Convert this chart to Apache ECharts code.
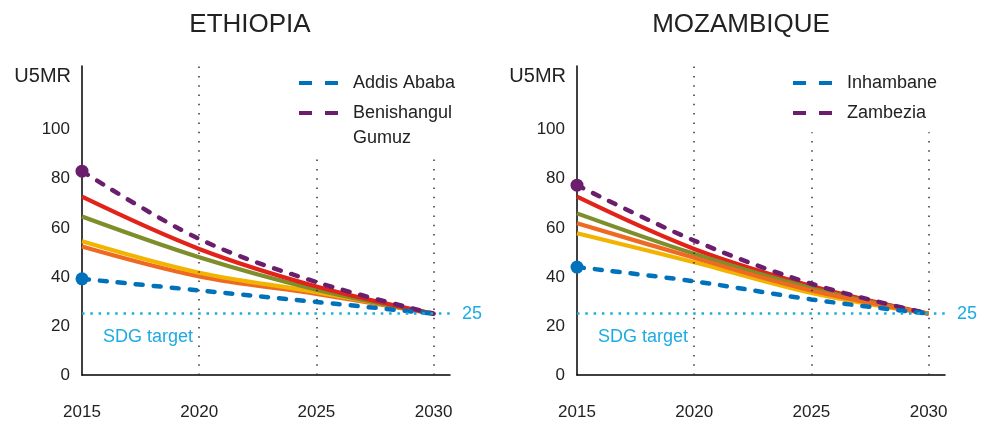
<!DOCTYPE html>
<html>
<head>
<meta charset="utf-8">
<script src="https://cdn.jsdelivr.net/npm/echarts@6/dist/echarts.min.js"></script>
<style>html,body{margin:0;padding:0;background:#fff}#c{width:983px;height:421px}</style>
</head>
<body>
<div id="c"></div>
<script>
// ---- data ----
const years = [2015, 2020, 2025, 2030];
const panelTitles = ['ETHIOPIA', 'MOZAMBIQUE'];
const yTickLabels = [0, 20, 40, 60, 80, 100];
const xTickLabels = [2015, 2020, 2025, 2030];
const sdgTarget = 25;
const sdgLabel = 'SDG target';

// Ethiopia
const ethNames = ['Addis Ababa', 'Benishangul Gumuz'];
const ethLegendLabels = ['Addis Ababa', 'Benishangul\nGumuz'];
const ethAddis = [39.2, 34.5, 29.8, 25];
const ethBenishangul = [83.1, 55.5, 37.9, 25];
const ethRed = [72.7, 51.4, 36.1, 25];
const ethOlive = [64.6, 48.0, 34.8, 25];
const ethYellow = [54.5, 41.7, 33.8, 25];
const ethOrange = [52.4, 40.2, 33.1, 25];
const ethGuideTops = [126, 88.8, 88.8];

// Mozambique
const mozNames = ['Inhambane', 'Zambezia'];
const mozInhambane = [44.0, 38.2, 30.8, 25];
const mozZambezia = [77.4, 54.8, 37.2, 25];
const mozRed = [72.7, 51.4, 36.3, 25];
const mozOlive = [65.9, 49.4, 35.4, 25];
const mozOrange = [61.9, 47.8, 34.5, 25];
const mozYellow = [57.8, 46.0, 33.5, 25];
const mozGuideTops = [126, 99, 99];

// ---- styles ----
const C = {
  blue: '#0072BC', purple: '#6A1E6C', red: '#E2231A', olive: '#7E8E2B',
  yellow: '#F2B400', orange: '#EE6A22', cyan: '#1CABE2', text: '#222'
};
const FONT = 'Liberation Sans, Arial, sans-serif';

function lineSeries(name, vals, color, idx, dashed, dot) {
  return {
    type: 'line', name: name, xAxisIndex: idx, yAxisIndex: idx,
    smooth: 0.35, symbol: 'none', showSymbol: true, silent: true,
    color: color,
    lineStyle: dashed ? {color: color, width: 4.5, type: [7, 11], cap: 'round'} : {color: color, width: 4.2},
    data: years.map((y, i) => (dot && i === 0)
      ? {value: [y, vals[i]], symbol: 'circle', symbolSize: 13, itemStyle: {color: color}}
      : [y, vals[i]])
  };
}

function guideSeries(idx, tops) {
  const guides = xTickLabels.slice(1).map((x, i) => [
    {coord: [x, 0], lineStyle: {color: '#333', width: 1.5, type: [1.5, 7.8]}, label: {show: false}},
    {coord: [x, tops[i]]}
  ]);
  return {
    type: 'line', xAxisIndex: idx, yAxisIndex: idx, data: [], silent: true,
    markLine: {
      silent: true, symbol: 'none', animation: false,
      data: guides.concat([
        {yAxis: sdgTarget, lineStyle: {color: C.cyan, width: 2.5, type: [2.5, 5.8]},
         label: {show: true, position: 'end', formatter: String(sdgTarget), color: C.cyan, fontSize: 18, distance: 12, fontFamily: FONT}},
        {yAxis: sdgTarget, lineStyle: {color: 'rgba(0,0,0,0)', width: 1, type: 'solid'},
         label: {show: true, position: 'insideStartBottom', formatter: sdgLabel, color: C.cyan, fontSize: 18, distance: [21, 14], fontFamily: FONT}}
      ])
    }
  };
}

const grids = [
  {left: 82, right: 533, top: 66, bottom: 44.5},
  {left: 577, right: 38, top: 66, bottom: 44.5}
];

function xAx(idx) {
  return {
    type: 'value', gridIndex: idx, min: 2015, max: 2030.7, interval: 5,
    axisLine: {lineStyle: {color: '#000', width: 1.5}},
    axisTick: {show: false}, splitLine: {show: false},
    axisLabel: {margin: 29, fontSize: 17, color: C.text, fontFamily: FONT,
      formatter: v => xTickLabels.indexOf(v) >= 0 ? String(v) : ''}
  };
}
function yAx(idx) {
  return {
    type: 'value', gridIndex: idx, min: 0, max: 126, interval: 20,
    name: 'U5MR', nameLocation: 'end', nameGap: -10,
    nameTextStyle: {fontSize: 20, color: C.text, align: 'right', verticalAlign: 'middle', padding: [0, 11, 0, 0], fontFamily: FONT},
    axisLine: {show: true, lineStyle: {color: '#000', width: 1.5}},
    axisTick: {show: false}, splitLine: {show: false},
    axisLabel: {margin: 12, fontSize: 17, color: C.text, fontFamily: FONT,
      formatter: v => yTickLabels.indexOf(v) >= 0 ? String(v) : ''}
  };
}

const legendBase = {
  orient: 'vertical', padding: 0, itemWidth: 39, itemHeight: 4, selectedMode: false,
  icon: 'path://M0,0h13v4h-13z M26,0h13v4h-13z',
  textStyle: {fontSize: 18, lineHeight: 25, color: C.text, padding: [0, 0, 0, 10], fontFamily: FONT}
};

const option = {
  animation: false,
  textStyle: {fontFamily: FONT},
  title: [
    {text: panelTitles[0], left: 245, top: 7, textAlign: 'center', textStyle: {fontSize: 26, fontWeight: 'normal', color: C.text, fontFamily: FONT}},
    {text: panelTitles[1], left: 736, top: 7, textAlign: 'center', textStyle: {fontSize: 26, fontWeight: 'normal', color: C.text, fontFamily: FONT}}
  ],
  legend: [
    Object.assign({}, legendBase, {data: [ethNames[0]], left: 299, top: 70.5}),
    Object.assign({}, legendBase, {data: [ethNames[1]], left: 299, top: 75.5, formatter: () => '\n' + ethLegendLabels[1]}),
    Object.assign({}, legendBase, {data: [mozNames[0]], left: 793, top: 70.5}),
    Object.assign({}, legendBase, {data: [mozNames[1]], left: 793, top: 100.5})
  ],
  grid: grids,
  xAxis: [xAx(0), xAx(1)],
  yAxis: [yAx(0), yAx(1)],
  series: [
    guideSeries(0, ethGuideTops),
    lineSeries('eth-orange', ethOrange, C.orange, 0),
    lineSeries('eth-yellow', ethYellow, C.yellow, 0),
    lineSeries('eth-olive', ethOlive, C.olive, 0),
    lineSeries('eth-red', ethRed, C.red, 0),
    lineSeries(ethNames[1], ethBenishangul, C.purple, 0, true, true),
    lineSeries(ethNames[0], ethAddis, C.blue, 0, true, true),

    guideSeries(1, mozGuideTops),
    lineSeries('moz-yellow', mozYellow, C.yellow, 1),
    lineSeries('moz-red', mozRed, C.red, 1),
    lineSeries('moz-olive', mozOlive, C.olive, 1),
    lineSeries('moz-orange', mozOrange, C.orange, 1),
    lineSeries(mozNames[1], mozZambezia, C.purple, 1, true, true),
    lineSeries(mozNames[0], mozInhambane, C.blue, 1, true, true)
  ]
};

const chart = echarts.init(document.getElementById('c'), null, {renderer: 'canvas'});
chart.setOption(option);
</script>
</body>
</html>
